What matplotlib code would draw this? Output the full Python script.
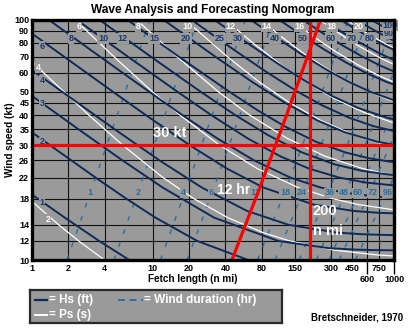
import matplotlib
matplotlib.use("Agg")
import matplotlib.pyplot as plt
import numpy as np
from matplotlib.ticker import FixedLocator, FixedFormatter, NullLocator

plt.rcParams['font.family'] = ['Liberation Sans', 'DejaVu Sans']

# ---------------- data ----------------
x_ticks = [1, 2, 4, 10, 20, 40, 80, 150, 300, 450, 750]
x_ticks_low = [600, 1000]
y_ticks = [10, 12, 14, 18, 22, 26, 30, 35, 40, 45, 50, 60, 70, 80, 90, 100]
x_grid = [2, 4, 10, 20, 40, 80, 150, 300, 450, 600, 750]
y_grid = [12, 14, 18, 22, 26, 30, 35, 40, 45, 50, 60, 70, 80, 90]

# significant wave height curves Hs (ft): fetch (n mi) / wind (kt)
hs_levels = [1, 2, 3, 4, 6, 8, 10, 12, 15, 20, 25, 30, 40, 50, 60, 70, 80, 90, 100]
hs_fetch = [
    [0.636, 1.115, 1.87, 3.60, 6.40],
    [0.634, 1.41, 3.37, 6.03, 10.56, 23.4, 61.9],
    [0.542, 1.203, 2.42, 5.59, 12.13, 32.3, 109.8, 288, 473, 660, 1008],
    [0.703, 1.784, 4.83, 11.33, 25.6, 60.5, 134, 339, 540, 894, 1590],
    [0.689, 1.848, 4.70, 8.80, 20.3, 41.2, 82.8, 216, 459, 762, 1384],
    [1.366, 3.67, 9.39, 17.7, 34.4, 68.8, 138.8, 247.7, 401, 757, 1476],
    [2.33, 6.25, 16.1, 30.7, 61.5, 114, 197, 353, 582, 1024],
    [3.59, 9.68, 25.1, 48.5, 90.8, 173, 321, 539, 940, 1533],
    [6.12, 16.5, 43.4, 73.8, 123.7, 226, 396, 617, 995, 1510],
    [12.2, 33.1, 66.8, 125.5, 232.8, 390, 729, 1289],
    [20.8, 46.8, 89.9, 160, 253, 427, 679, 1095],
    [32.2, 60.5, 111.6, 189, 308.6, 497, 882, 1226],
    [64.4, 102.8, 169, 274, 424, 640, 1015],
    [110.7, 178.8, 264, 406, 585, 867, 1183],
    [173.5, 255, 375, 549, 785, 1062],
    [255, 353, 523, 733, 985, 1221],
    [357, 467, 636, 839, 1041],
    [485, 640, 851, 1081],
    [641, 929, 1513],
]
hs_wind = [
    [22, 18, 15, 12, 10],
    [40, 30, 22, 18, 15, 12, 10],
    [60, 45, 35, 26, 20, 15, 12, 11.2, 11.05, 11, 10.97],
    [70, 50, 35, 26, 20, 16, 14, 13, 12.8, 12.7, 12.66],
    [100, 70, 50, 40, 30, 24, 20, 17, 16, 15.7, 15.55],
    [100, 70, 50, 40, 32, 26, 22, 20, 19, 18.3, 18.0],
    [100, 70, 50, 40, 32, 27, 24, 22, 21, 20.4],
    [100, 70, 50, 40, 33, 28, 25, 23.5, 22.6, 22.2],
    [100, 70, 50, 42, 36, 31, 28, 26.5, 25.5, 25],
    [100, 70, 55, 45, 38, 34, 31, 29.5],
    [100, 75, 60, 50, 44, 39, 36, 34],
    [100, 80, 65, 55, 48, 43, 39, 37.5],
    [100, 85, 72, 62, 55, 50, 46],
    [100, 85, 75, 66, 60, 55, 52],
    [100, 88, 78, 70, 64, 60],
    [100, 90, 80, 73, 68, 65],
    [100, 92, 84, 78, 74],
    [100, 92, 85, 80],
    [100, 90, 80],
]

# significant wave period curves Ps (s)
ps_levels = [2, 4, 6, 8, 10, 12, 14, 16, 18, 20]
ps_fetch = [
    [0.741, 1.666, 2.435, 3.99],
    [0.91, 1.25, 2.96, 5.66, 12.2, 21.9, 41.9, 82.2, 137, 318, 720, 1353],
    [2.26, 4.78, 9.98, 16.9, 35.9, 73.6, 161, 309, 507, 1152],
    [7.33, 15.9, 35.1, 63.8, 130.8, 269, 549, 974, 1786],
    [18.5, 41.6, 76.4, 137, 248, 472, 857, 1598],
    [39.9, 67.4, 114.7, 186, 318, 569, 1018],
    [77.7, 115.8, 180, 283, 459, 762, 1225],
    [140.5, 215, 322, 495, 772, 1185],
    [241, 345, 501, 735, 1064],
    [399, 548, 818, 1107],
]
ps_wind = [
    [20, 14, 12, 10],
    [70, 60, 40, 30, 22, 18, 15, 13, 12, 11, 10.5, 10.3],
    [100, 70, 50, 40, 30, 24, 20, 18, 17, 16],
    [100, 70, 50, 40, 32, 27, 24, 22.5, 21.5],
    [100, 70, 55, 45, 38, 33, 30, 28],
    [100, 80, 65, 55, 47, 41, 37],
    [100, 85, 72, 62, 54, 48, 44],
    [100, 85, 74, 65, 58, 53],
    [100, 88, 78, 70, 64],
    [100, 90, 80, 74],
]

# minimum wind duration curves (hr)
dur_levels = [1, 2, 4, 6, 12, 18, 24, 36, 48, 60, 72, 96]
dur_fetch = [
    [1.95, 3.15, 5.08, 9.51],
    [4.78, 7.79, 12.6, 23.7],
    [11.6, 19.1, 31.1, 58.8],
    [19.3, 32.2, 52.7, 100],
    [45.4, 77.3, 128.7, 246.7],
    [73.9, 128.5, 215.8, 417.7],
    [103.4, 181.7, 309.3, 604],
    [163.8, 295.8, 514, 1016],
    [227, 414, 726, 1462],
    [289, 533, 950, 1933],
    [352, 655, 1183],
    [479, 908, 1655],
]
dur_wind = [
    [10, 20, 40, 100], [10, 20, 40, 100], [10, 20, 40, 100], [10, 20, 40, 100],
    [10, 20, 40, 100], [10, 20, 40, 100], [10, 20, 40, 100], [10, 20, 40, 100],
    [10, 20, 40, 100], [10, 20, 40, 100], [10, 20, 40], [10, 20, 40],
]

# worked example
example_wind = 30
example_fetch = 200
example_duration = 12

# label anchors (fetch, wind) for curve annotations
hs_top_labels = [8, 10, 12, 15, 20, 25, 30, 40, 50, 60, 70, 80, 90, 100]
hs_top_F = [2.10, 3.88, 5.67, 10.25, 18.9, 36.1, 50.9, 103, 176, 300, 448, 631, 908, 925]
hs_top_U = [83.3] * 12 + [87.4, 94.4]
hs_left_labels = [6, 4, 3, 2, 1]
hs_left_U = [77.2, 55.7, 44.7, 31.0, 17.4]
ps_top_labels = [6, 8, 10, 12, 14, 16, 18, 20]
ps_top_F = [2.45, 7.55, 19.6, 44.5, 88.5, 166, 306, 512]
ps_left = [(1.12, 63.1, '4'), (1.357, 14.8, '2')]
dur_label_F = [3.02, 7.55, 17.8, 30.4, 71.0, 125, 172.6, 294, 384, 502, 668, 890]

# ---------------- styling ----------------
GRAY = '#9a9a9a'
NAVY = '#0f2b58'
NAVY_T = '#1a3b6d'
TEAL = '#2d6d9d'
RED = '#ff0000'

fig = plt.figure(figsize=(4.1, 3.3), dpi=100)
ax = fig.add_axes([32 / 410, 1 - 260 / 330, 362 / 410, 240.5 / 330])
ax.set_facecolor(GRAY)
ax.set_xscale('log')
ax.set_yscale('log')
ax.set_xlim(1, 1000)
ax.set_ylim(10, 100)

for g in x_grid:
    ax.axvline(g, color='#111111', lw=0.8, zorder=1)
for g in y_grid:
    ax.axhline(g, color='#111111', lw=0.8, zorder=1)

for F, U in zip(dur_fetch, dur_wind):
    ax.plot(F, U, color=TEAL, lw=1.0, ls=(0, (3.5, 6.5)), zorder=2)
for F, U in zip(ps_fetch, ps_wind):
    ax.plot(F, U, color='white', lw=0.9, zorder=3)
for F, U in zip(hs_fetch, hs_wind):
    ax.plot(F, U, color=NAVY, lw=1.4, zorder=4)

bb = dict(boxstyle='square,pad=0.08', fc=GRAY, ec='none')
kw = dict(ha='center', va='center', fontsize=6.5, fontweight='bold', zorder=5, bbox=bb)
for s, F, U in zip(hs_top_labels, hs_top_F, hs_top_U):
    ax.text(F, U, str(s), color=NAVY_T, **kw)
for s, U in zip(hs_left_labels, hs_left_U):
    ax.text(1.21, U, str(s), color=NAVY_T, **kw)
for s, F in zip(ps_top_labels, ps_top_F):
    ax.text(F, 93.5, str(s), color='white', **kw)
for F, U, s in ps_left:
    ax.text(F, U, s, color='white', **kw)
for s, F in zip(dur_levels, dur_label_F):
    ax.text(F, 19.0, str(s), color=TEAL, **kw)

# worked example in red
ax.axhline(example_wind, color=RED, lw=2.3, zorder=6)
ax.axvline(example_fetch, color=RED, lw=2.3, zorder=6)
i12 = dur_levels.index(example_duration)
ax.plot(dur_fetch[i12], dur_wind[i12], color=RED, lw=2.3, zorder=6)

big = dict(color='white', fontweight='bold', zorder=7)
ax.text(13.9, 33.8, f'{example_wind} kt', ha='center', va='center', fontsize=10.5, **big)
ax.text(46.6, 19.56, f'{example_duration} hr', ha='center', va='center', fontsize=10, **big)
ax.text(213, 16.0, f'{example_fetch}', ha='left', va='center', fontsize=10.5, **big)
ax.text(213, 13.2, 'n mi', ha='left', va='center', fontsize=10.5, **big)

# axes ticks
ax.xaxis.set_major_locator(FixedLocator(x_ticks))
ax.xaxis.set_major_formatter(FixedFormatter([str(v) for v in x_ticks]))
ax.xaxis.set_minor_locator(FixedLocator(x_ticks_low))
ax.xaxis.set_minor_formatter(FixedFormatter([str(v) for v in x_ticks_low]))
ax.yaxis.set_major_locator(FixedLocator(y_ticks))
ax.yaxis.set_major_formatter(FixedFormatter([str(v) for v in y_ticks]))
ax.yaxis.set_minor_locator(NullLocator())
ax.tick_params(axis='x', which='major', length=0, pad=3, labelsize=6.5)
ax.tick_params(axis='x', which='minor', length=10, width=1, color='black', pad=1, labelsize=6.5)
ax.tick_params(axis='y', which='major', length=0, pad=2, labelsize=6.5)
for t in ax.get_xticklabels(which='both') + ax.get_yticklabels():
    t.set_fontweight('bold')
for sp in ax.spines.values():
    sp.set_linewidth(2.4)
    sp.set_color('black')
    sp.set_zorder(8)

fig.text(213 / 410, 1 - 10 / 330, 'Wave Analysis and Forecasting Nomogram',
         ha='center', va='center', fontsize=8.6, fontweight='bold')
fig.text(193 / 410, 1 - 279 / 330, 'Fetch length (n mi)', ha='center', va='center',
         fontsize=7.2, fontweight='bold')
fig.text(10.5 / 410, 1 - 140 / 330, 'Wind speed (kt)', ha='center', va='center',
         rotation=90, fontsize=7.2, fontweight='bold')
fig.text(357 / 410, 1 - 318 / 330, 'Bretschneider, 1970', ha='center', va='center',
         fontsize=7, fontweight='bold')

# legend box
lg = fig.add_axes([30 / 410, 1 - 323 / 330, 252 / 410, 33 / 330])
lg.patch.set_facecolor(GRAY)
lg.set_xlim(0, 252)
lg.set_ylim(33, 0)
lg.set_xticks([])
lg.set_yticks([])
for sp in lg.spines.values():
    sp.set_linewidth(1.6)
    sp.set_color('#2a2a2a')
lk = dict(color='white', fontsize=8.5, fontweight='bold', va='center', ha='left')
lg.plot([5, 17], [10, 10], color=NAVY, lw=1.6)
lg.text(19, 10, '= Hs (ft)', **lk)
lg.plot([88, 113], [10, 10], color=TEAL, lw=1.4, ls=(0, (3.5, 2.5)))
lg.text(114, 10, '= Wind duration (hr)', **lk)
lg.plot([5, 17], [25, 25], color='white', lw=1.4)
lg.text(19, 25, '= Ps (s)', **lk)

fig.savefig('out.png', dpi=100)
